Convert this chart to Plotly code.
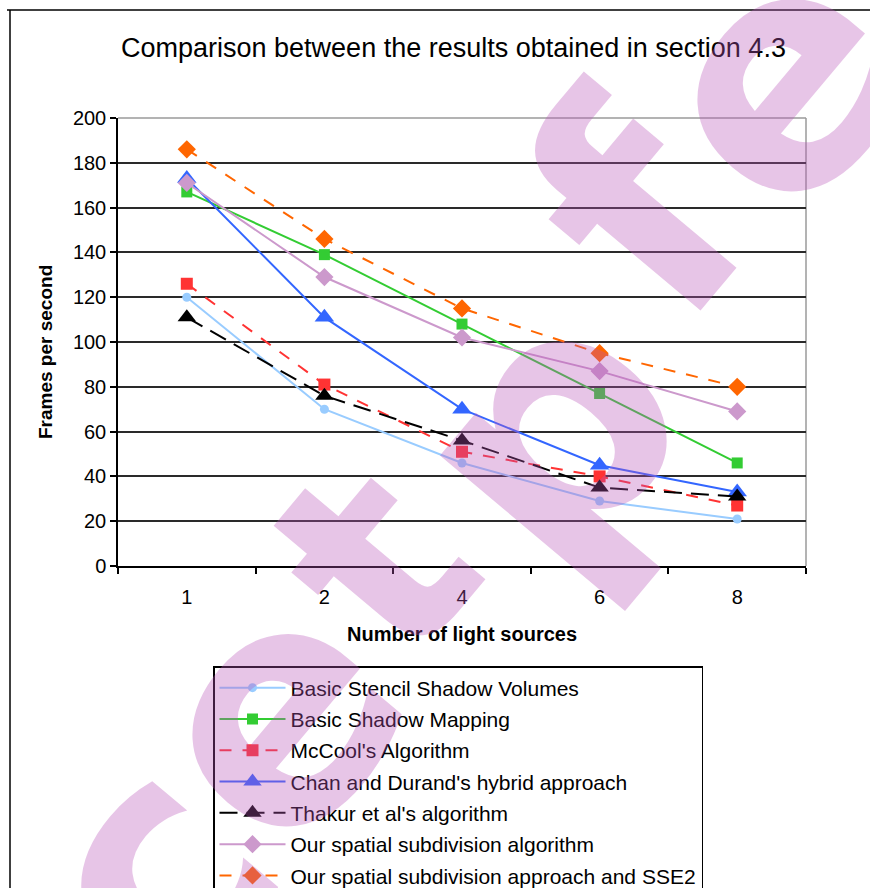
import plotly.graph_objects as go

# Number of light sources (category axis)
light_sources = ["1", "2", "4", "6", "8"]

# Frames per second for each technique
stencil_shadow_volumes = [120, 70, 46, 29, 21]
basic_shadow_mapping = [167, 139, 108, 77, 46]
mccool = [126, 81, 51, 40, 27]
chan_durand = [173, 111, 70, 45, 33]
thakur = [111, 76, 56, 35, 31]
spatial_subdivision = [171, 129, 102, 87, 69]
spatial_subdivision_sse2 = [186, 146, 115, 95, 80]

series_names = [
    "Basic Stencil Shadow Volumes",
    "Basic Shadow Mapping",
    "McCool's Algorithm",
    "Chan and Durand's hybrid approach",
    "Thakur et al's algorithm",
    "Our spatial subdivision algorithm",
    "Our spatial subdivision approach and SSE2",
]
y_ticks = [0, 20, 40, 60, 80, 100, 120, 140, 160, 180, 200]

W, H = 870, 888
L, R, T, B = 118, 806, 118, 566  # plot area in pixels


def px_x(x):
    return (x - L) / (R - L)


def px_y(y):
    return (B - y) / (B - T)


styles = [
    dict(color="#99CCFF", dash="solid", symbol="circle", size=9),
    dict(color="#33CC33", dash="solid", symbol="square", size=11),
    dict(color="#FF3333", dash="12px,11px", symbol="square", size=12),
    dict(color="#3366FF", dash="solid", symbol="triangle-up", size=17),
    dict(color="#000000", dash="18px,9px", symbol="triangle-up", size=16),
    dict(color="#CC99CC", dash="solid", symbol="diamond", size=14),
    dict(color="#FF6600", dash="12px,11px", symbol="diamond", size=14),
]
values = [
    stencil_shadow_volumes,
    basic_shadow_mapping,
    mccool,
    chan_durand,
    thakur,
    spatial_subdivision,
    spatial_subdivision_sse2,
]

fig = go.Figure()
for i, (name, vals, st) in enumerate(zip(series_names, values, styles)):
    fig.add_trace(
        go.Scatter(
            x=light_sources,
            y=vals,
            name=name,
            legendgroup=f"g{i}",
            mode="lines+markers",
            line=dict(color=st["color"], width=2, dash=st["dash"]),
            marker=dict(color=st["color"], symbol=st["symbol"], size=st["size"],
                        line=dict(width=0)),
        )
    )

fig.update_layout(
    width=W,
    height=H,
    margin=dict(l=L, r=W - R, t=T, b=H - B, pad=0, autoexpand=False),
    paper_bgcolor="white",
    plot_bgcolor="white",
    font=dict(family="Liberation Sans, Arial, sans-serif", size=20, color="#000"),
    showlegend=True,
    legend=dict(
        x=px_x(213),
        y=px_y(666),
        xanchor="left",
        yanchor="top",
        bgcolor="white",
        bordercolor="#000",
        borderwidth=1.5,
        font=dict(size=21, color="#000"),
        tracegroupgap=1,
        itemwidth=66,
    ),
)

fig.update_xaxes(
    type="category",
    range=[-0.5, 4.5],
    showline=True,
    linecolor="#000",
    linewidth=1.5,
    ticks="outside",
    ticklen=6,
    tickcolor="#000",
    tickwidth=1.5,
    tickson="boundaries",
    ticklabelstandoff=12,
    showgrid=False,
    zeroline=False,
    tickfont=dict(size=20),
)
fig.update_yaxes(
    range=[0, 200],
    tickvals=y_ticks,
    showline=True,
    linecolor="#000",
    linewidth=1.5,
    ticks="outside",
    ticklen=6,
    tickcolor="#000",
    tickwidth=1.5,
    showgrid=True,
    gridcolor="#2a2a2a",
    gridwidth=1.5,
    zeroline=False,
    tickfont=dict(size=20),
)

# grey frame on the top and right of the plot area
fig.add_shape(type="line", xref="paper", yref="paper", x0=0, x1=1, y0=1, y1=1,
              line=dict(color="#9a9a9a", width=1.5), layer="between")
fig.add_shape(type="line", xref="paper", yref="paper", x0=1, x1=1, y0=0, y1=1,
              line=dict(color="#9a9a9a", width=1.5), layer="between")

# outer chart border (left and top)
fig.add_shape(type="line", xref="paper", yref="paper",
              x0=px_x(10), x1=px_x(10), y0=px_y(H + 5), y1=px_y(10),
              line=dict(color="#000", width=1.5))
fig.add_shape(type="line", xref="paper", yref="paper",
              x0=px_x(7), x1=px_x(W + 5), y0=px_y(10), y1=px_y(10),
              line=dict(color="#000", width=1.5))

fig.add_annotation(
    text="Comparison between the results obtained in section 4.3",
    xref="paper", yref="paper", x=px_x(453), y=px_y(48),
    showarrow=False, font=dict(size=27, color="#000"),
    xanchor="center", yanchor="middle",
)
fig.add_annotation(
    text="<b>Frames per second</b>",
    xref="paper", yref="paper", x=px_x(45), y=px_y(352),
    showarrow=False, textangle=-90, font=dict(size=19, color="#000"),
    xanchor="center", yanchor="middle",
)
fig.add_annotation(
    text="<b>Number of light sources</b>",
    xref="paper", yref="paper", x=px_x(462), y=px_y(634),
    showarrow=False, font=dict(size=20, color="#000"),
    xanchor="center", yanchor="middle",
)

# translucent diagonal watermark letters laid over the chart
wm_letters = ["c", "e", "t", "p", "f", "e"]
wm_x = [150, 270, 375, 545, 640, 775]
wm_y = [875, 715, 560, 430, 210, 80]
wm_size = [320, 320, 280, 320, 320, 320]
for ch, wx, wy, ws in zip(wm_letters, wm_x, wm_y, wm_size):
    fig.add_annotation(
        text=f"<b>{ch}</b>",
        xref="paper", yref="paper", x=px_x(wx), y=px_y(wy),
        showarrow=False, textangle=-50,
        font=dict(family="DejaVu Sans", size=ws, color="rgba(184,84,184,0.34)"),
        xanchor="center", yanchor="middle",
    )

fig.write_html("out.html")
